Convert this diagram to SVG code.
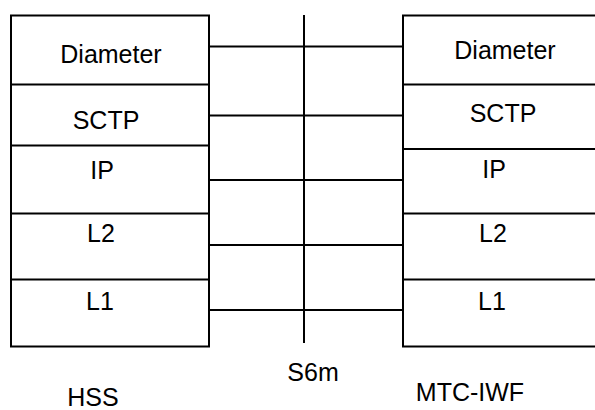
<svg xmlns="http://www.w3.org/2000/svg" width="595" height="410" viewBox="0 0 595 410">
<style>
.box{fill:#fff;stroke:#000;stroke-width:2}
.ln{stroke:#000;stroke-width:2;fill:none}
text{font-family:"Liberation Sans",Arial,sans-serif;font-size:25px;fill:#000;text-anchor:middle}
</style>
<rect x="0" y="0" width="595" height="410" fill="#fff"/>
<g id="hss">
<rect class="box" x="11" y="15.5" width="198" height="331"/>
<line class="ln" x1="11" y1="84.5" x2="209" y2="84.5"/>
<line class="ln" x1="11" y1="145.5" x2="209" y2="145.5"/>
<line class="ln" x1="11" y1="213.5" x2="209" y2="213.5"/>
<line class="ln" x1="11" y1="279.5" x2="209" y2="279.5"/>
<text x="111" y="63">Diameter</text>
<text x="106" y="129">SCTP</text>
<text x="102" y="179">IP</text>
<text x="101" y="242">L2</text>
<text x="100" y="310">L1</text>
<text x="93" y="406">HSS</text>
</g>
<g id="mtc-iwf">
<rect class="box" x="403" y="15.5" width="200" height="331"/>
<line class="ln" x1="403" y1="84.5" x2="600" y2="84.5"/>
<line class="ln" x1="403" y1="149" x2="600" y2="149"/>
<line class="ln" x1="403" y1="213.5" x2="600" y2="213.5"/>
<line class="ln" x1="403" y1="279.5" x2="600" y2="279.5"/>
<text x="505" y="59">Diameter</text>
<text x="503" y="122">SCTP</text>
<text x="494" y="178">IP</text>
<text x="493" y="242">L2</text>
<text x="492" y="310">L1</text>
<text x="470" y="401">MTC-IWF</text>
</g>
<g id="s6m">
<line class="ln" x1="304" y1="15" x2="304" y2="343"/>
<text x="313" y="381">S6m</text>
</g>
<g id="connectors">
<line class="ln" x1="209" y1="46.5" x2="403" y2="46.5"/>
<line class="ln" x1="209" y1="115.5" x2="403" y2="115.5"/>
<line class="ln" x1="209" y1="180" x2="403" y2="180"/>
<line class="ln" x1="209" y1="245" x2="403" y2="245"/>
<line class="ln" x1="209" y1="310" x2="403" y2="310"/>
</g>
</svg>
